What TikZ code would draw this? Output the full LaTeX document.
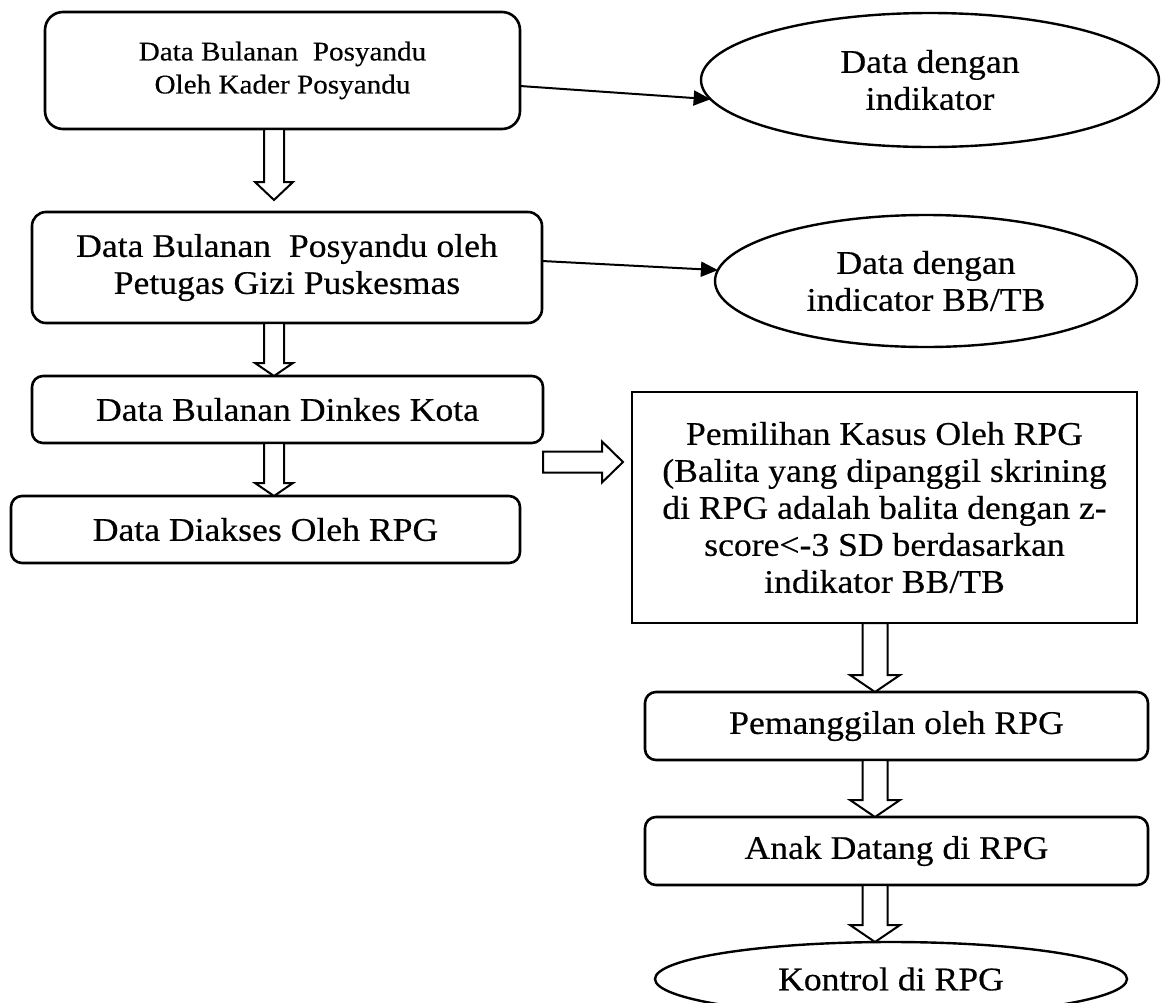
\documentclass[tikz,border=0pt]{standalone}
\usepackage{fontspec}
\setmainfont[FakeStretch=1.08, FakeBold=0.4]{Liberation Serif}
\usetikzlibrary{arrows.meta, calc, shapes.geometric}

\begin{document}
\begin{tikzpicture}[
			x=1pt, y=-1pt,
			every node/.style={font=\fontsize{33}{37}\selectfont, inner sep=0pt, outer sep=0pt, align=center},
			box/.style={draw, line width=2.6pt, rounded corners=14pt},
			rect/.style={draw, line width=2.6pt},
			oval/.style={draw, ellipse, line width=2.4pt},
			arr/.style={-{Triangle[length=17pt, width=15pt]}, line width=2pt},
			fat/.style n args={3}{draw, fill=white, line width=2pt, to path={
					(\tikztostart) coordinate (fatS)
					(\tikztotarget) coordinate (fatT)
					($(fatT)!#3!(fatS)$) coordinate (fatH)
					($(fatS)!#1!90:(fatT)$) -- ($(fatH)!#1!90:(fatT)$)
					-- ($(fatH)!#2!90:(fatT)$) -- (fatT)
					-- ($(fatH)!#2!-90:(fatT)$) -- ($(fatH)!#1!-90:(fatT)$)
					-- ($(fatS)!#1!-90:(fatT)$) -- cycle}},
			]
			\useasboundingbox (0,0) rectangle (1162,1002);
			\clip (0,0) rectangle (1162,1002);
			\coordinate (colL) at (274,0);
			\coordinate (colR) at (875,0);

			% Left column
			\node[box, rounded corners=18pt, minimum width=475pt, minimum height=117pt,
				font=\fontsize{27}{33}\selectfont] (kader) at (282.5,70.5)
			{Data Bulanan\ \ Posyandu\\Oleh Kader Posyandu};
			\node[box, minimum width=510pt, minimum height=111pt] (petugas) at (287,267.5)
			{Data Bulanan\ \ Posyandu oleh\\Petugas Gizi Puskesmas};
			\node[box, rounded corners=11pt, minimum width=511pt, minimum height=67pt] (dinkes) at (287.5,409.5)
			{Data Bulanan Dinkes Kota};
			\node[box, rounded corners=11pt, minimum width=509pt, minimum height=67pt] (diakses) at (265.5,529.5)
			{Data Diakses Oleh RPG};

			% Outputs
			\node[oval, minimum width=458pt, minimum height=134pt] (indikator) at (930,80)
			{Data dengan\\indikator};
			\node[oval, minimum width=422pt, minimum height=132pt] (bbtb) at (926,281)
			{Data dengan\\indicator BB/TB};

			% Right column
			\node[rect, minimum width=505pt, minimum height=231pt] (pilih) at (884.5,507.5)
			{Pemilihan Kasus Oleh RPG\\(Balita yang dipanggil skrining\\di RPG adalah balita dengan z-\\score<-3 SD berdasarkan\\indikator BB/TB};
			\node[box, rounded corners=11pt, minimum width=503pt, minimum height=68pt] (panggil) at (896.5,726)
			{Pemanggilan oleh RPG};
			\node[box, rounded corners=11pt, minimum width=503pt, minimum height=68pt] (datang) at (896.5,851)
			{Anak Datang di RPG};
			\node[oval, minimum width=472pt, minimum height=74pt] (kontrol) at (891,979)
			{Kontrol di RPG};

			% Arrows
			\draw[arr] ([yshift=-15.5pt]kader.east) -- (indikator.185);
			\draw[arr] ([yshift=6.5pt]petugas.east) -- (bbtb.177);
			\draw[fat={10pt}{19pt}{18pt}] (kader.south -| colL) to ([yshift=12pt]petugas.north -| colL);
			\draw[fat={10pt}{19pt}{13pt}] (petugas.south -| colL) to (dinkes.north -| colL);
			\draw[fat={10pt}{19pt}{13pt}] (dinkes.south -| colL) to (diakses.north -| colL);
			\draw[fat={10.5pt}{20.5pt}{21pt}] ([yshift=-19pt]dinkes.south east) to ([xshift=-9pt, yshift=-19pt]dinkes.south east -| pilih.west);
			\draw[fat={12.5pt}{25pt}{17pt}] (pilih.south -| colR) to (panggil.north -| colR);
			\draw[fat={12.5pt}{25pt}{17pt}] (panggil.south -| colR) to (datang.north -| colR);
			\draw[fat={12.5pt}{25pt}{17pt}] (datang.south -| colR) to (kontrol.north -| colR);
		\end{tikzpicture}
\end{document}
